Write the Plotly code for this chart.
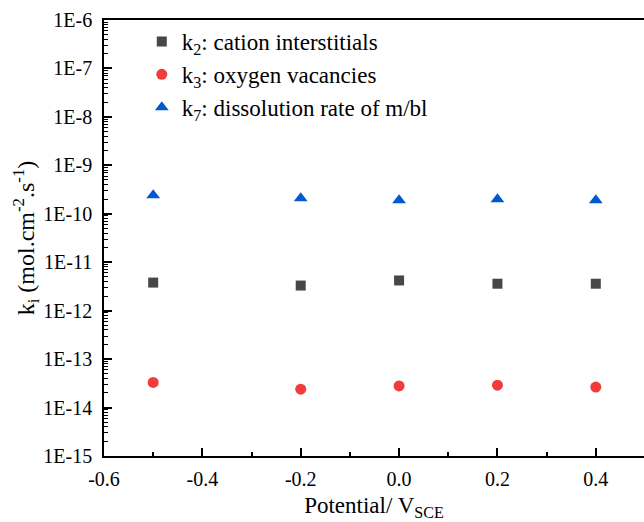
import plotly.graph_objects as go

potential = [-0.5, -0.2, 0.0, 0.2, 0.4]
k2_cation = [3.8e-12, 3.3e-12, 4.2e-12, 3.6e-12, 3.6e-12]
k3_oxygen = [3.3e-14, 2.4e-14, 2.8e-14, 2.9e-14, 2.65e-14]
k7_dissolution = [2.4e-10, 2.1e-10, 1.9e-10, 2.0e-10, 1.9e-10]

names = ["k<sub>2</sub>: cation interstitials",
         "k<sub>3</sub>: oxygen vacancies",
         "k<sub>7</sub>: dissolution rate of m/bl"]
colors = ["#474747", "#F03C3C", "#0059CF"]
symbols = ["square", "circle", "triangle-up"]
sizes = [10, 11, 12]

y_tickvals = [1e-15, 1e-14, 1e-13, 1e-12, 1e-11, 1e-10, 1e-9, 1e-8, 1e-7, 1e-6]
y_ticktext = ["1E-15", "1E-14", "1E-13", "1E-12", "1E-11", "1E-10", "1E-9", "1E-8", "1E-7", "1E-6"]
x_tickvals = [-0.6, -0.4, -0.2, 0.0, 0.2, 0.4]
x_ticktext = ["-0.6", "-0.4", "-0.2", "0.0", "0.2", "0.4"]

FONT = "Liberation Serif"

fig = go.Figure()
for i, ys in enumerate([k2_cation, k3_oxygen, k7_dissolution]):
    fig.add_trace(go.Scatter(
        x=potential, y=ys, mode="markers", name=names[i], legendgroup=str(i),
        marker=dict(symbol=symbols[i], color=colors[i], size=sizes[i], line=dict(width=0)),
    ))
# invisible copy on an overlaid log axis that carries the minor ticks
fig.add_trace(go.Scatter(x=potential, y=k2_cation, yaxis="y2", mode="markers",
                         marker=dict(opacity=0), showlegend=False, hoverinfo="skip"))

fig.update_layout(
    width=644, height=522,
    margin=dict(l=104, r=0, t=20, b=66),
    paper_bgcolor="white", plot_bgcolor="white",
    font=dict(family=FONT, size=20, color="black"),
    showlegend=True,
    legend=dict(x=0.07, y=1.0, xanchor="left", yanchor="top",
                bgcolor="rgba(0,0,0,0)", borderwidth=0,
                font=dict(family=FONT, size=23, color="black"),
                tracegroupgap=0, itemsizing="trace"),
    xaxis=dict(
        range=[-0.6, 0.498], tickmode="array", tickvals=x_tickvals, ticktext=x_ticktext,
        ticks="inside", ticklen=8, tickwidth=1.5, tickcolor="black",
        showline=True, linewidth=1.5, linecolor="black", mirror=True,
        showgrid=False, zeroline=False,
        minor=dict(ticks="inside", ticklen=4, tickwidth=1.5, tickcolor="black",
                   dtick=0.1, showgrid=False),
        ticklabelstandoff=4,
        tickfont=dict(family=FONT, size=20),
        title=dict(text="Potential/ V<sub>SCE</sub>", font=dict(family=FONT, size=23), standoff=8),
    ),
    yaxis=dict(
        type="log", range=[-15, -6], tickmode="array", tickvals=y_tickvals, ticktext=y_ticktext,
        ticks="inside", ticklen=8, tickwidth=1.5, tickcolor="black",
        showline=True, linewidth=1.5, linecolor="black", mirror=False,
        showgrid=False, zeroline=False,
        ticklabelstandoff=6,
        tickfont=dict(family=FONT, size=20),
        title=dict(text="k<sub>i</sub> (mol.cm<sup>-2</sup>.s<sup>-1</sup>)", font=dict(family=FONT, size=24), standoff=0),
    ),
    yaxis2=dict(
        type="log", range=[-15, -6], overlaying="y", side="left", anchor="x",
        dtick="D1", ticks="inside", ticklen=4, tickwidth=1.2, tickcolor="black",
        showticklabels=False, showline=False, showgrid=False, zeroline=False,
    ),
)

fig.write_html("out.html")
